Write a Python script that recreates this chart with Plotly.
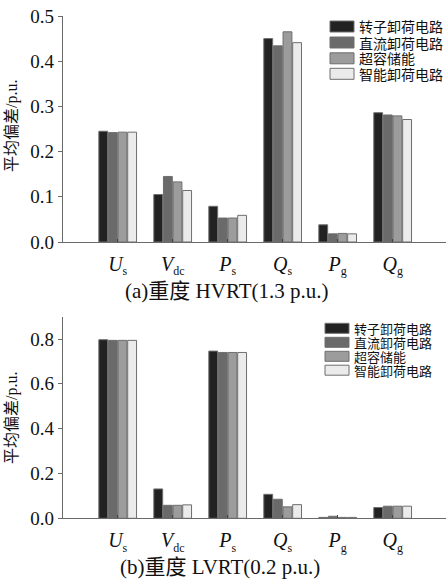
import plotly.graph_objects as go

W, H = 446, 580

categories = ["Us", "Vdc", "Ps", "Qs", "Pg", "Qg"]
tick_labels = ["<i>U</i><sub><span style='font-size:12px'>s</span></sub>",
               "<i>V</i><sub><span style='font-size:12px'>dc</span></sub>",
               "<i>P</i><sub><span style='font-size:12px'>s</span></sub>",
               "<i>Q</i><sub><span style='font-size:12px'>s</span></sub>",
               "<i>P</i><sub><span style='font-size:12px'>g</span></sub>",
               "<i>Q</i><sub><span style='font-size:12px'>g</span></sub>"]
series_names = ["转子卸荷电路", "直流卸荷电路", "超容储能", "智能卸荷电路"]
series_colors = ["#222222", "#6a6a6a", "#9c9c9c", "#ebebeb"]

# (a) HVRT 1.3 p.u.
hvrt_rotor = [0.245, 0.105, 0.079, 0.450, 0.038, 0.286]
hvrt_dc = [0.242, 0.145, 0.053, 0.434, 0.018, 0.281]
hvrt_sc = [0.243, 0.133, 0.053, 0.465, 0.019, 0.279]
hvrt_smart = [0.243, 0.114, 0.059, 0.441, 0.018, 0.271]

# (b) LVRT 0.2 p.u.
lvrt_rotor = [0.797, 0.131, 0.746, 0.107, 0.004, 0.048]
lvrt_dc = [0.794, 0.058, 0.740, 0.085, 0.009, 0.054]
lvrt_sc = [0.794, 0.058, 0.740, 0.051, 0.004, 0.054]
lvrt_smart = [0.794, 0.060, 0.740, 0.061, 0.004, 0.054]

caption_a = "(a)重度 HVRT(1.3 p.u.)"
caption_b = "(b)重度 LVRT(0.2 p.u.)"
y_title = "平均偏差/p.u."

SERIF = "Liberation Serif, Noto Sans CJK SC, serif"
CJK = "Noto Sans CJK SC, sans-serif"

def px(x):
    return x / W

def py(y):
    return 1 - y / H

fig = go.Figure()
top = [hvrt_rotor, hvrt_dc, hvrt_sc, hvrt_smart]
bot = [lvrt_rotor, lvrt_dc, lvrt_sc, lvrt_smart]
for name, col, vals in zip(series_names, series_colors, top):
    fig.add_trace(go.Bar(x=categories, y=vals, name=name, marker_color=col,
                         marker_line=dict(color="#6e6e6e", width=1),
                         xaxis="x", yaxis="y", showlegend=False))
for name, col, vals in zip(series_names, series_colors, bot):
    fig.add_trace(go.Bar(x=categories, y=vals, name=name, marker_color=col,
                         marker_line=dict(color="#6e6e6e", width=1),
                         xaxis="x2", yaxis="y2", showlegend=False))

xdom = [px(62.7), 1.0]
ydom_top = [py(242), py(16)]
ydom_bot = [py(518.3), py(316.6)]

xcommon = dict(type="category", categoryorder="array", categoryarray=categories,
               tickvals=categories, ticktext=tick_labels, range=[-1, 5.97],
               showline=True, linecolor="#6a6a6a", linewidth=1,
               ticks="inside", ticklen=3, tickcolor="#444", showgrid=False,
               zeroline=False, tickfont=dict(family=SERIF, size=20, color="#111"),
               domain=xdom, automargin=False, ticklabelstandoff=4, fixedrange=True)
ycommon = dict(showline=True, linecolor="#6a6a6a", linewidth=1, ticks="outside",
               ticklen=4, tickcolor="#6a6a6a", showgrid=False, zeroline=False,
               tickformat=".1f", tickfont=dict(family=SERIF, size=19, color="#111"),
               automargin=False, fixedrange=True)

fig.update_layout(
    width=W, height=H,
    margin=dict(l=0, r=0, t=0, b=0),
    paper_bgcolor="white", plot_bgcolor="white",
    barmode="group", bargap=0.30, bargroupgap=0.08,
    xaxis=dict(anchor="y", **xcommon),
    yaxis=dict(anchor="x", domain=ydom_top, range=[0, 0.5], dtick=0.1, **ycommon),
    xaxis2=dict(anchor="y2", **xcommon),
    yaxis2=dict(anchor="x2", domain=ydom_bot, range=[0, 0.9], dtick=0.2, **ycommon),
    showlegend=False,
)

shapes = []
annotations = []

def add_legend(x0, x1, ycenters, h, fs):
    for name, col, yc in zip(series_names, series_colors, ycenters):
        shapes.append(dict(type="rect", xref="paper", yref="paper",
                           x0=px(x0), x1=px(x1), y0=py(yc + h / 2), y1=py(yc - h / 2),
                           fillcolor=col, line=dict(color="#6e6e6e", width=1)))
        annotations.append(dict(xref="paper", yref="paper", x=px(x1 + 3), y=py(yc),
                                xanchor="left", yanchor="middle", showarrow=False,
                                text=name, font=dict(family=CJK, size=fs, color="#111")))

add_legend(330, 354, [26.5, 42.5, 58.3, 73.8], 11, 14)
add_legend(325, 349, [328.3, 342.3, 356.3, 370.2], 10, 13)

for yc in [126, 418]:
    annotations.append(dict(xref="paper", yref="paper", x=px(12), y=py(yc),
                            xanchor="center", yanchor="middle", showarrow=False,
                            textangle=-90, text=y_title,
                            font=dict(family=SERIF, size=16, color="#111")))

annotations.append(dict(xref="paper", yref="paper", x=px(226), y=py(291),
                        xanchor="center", yanchor="middle", showarrow=False,
                        text=caption_a, font=dict(family=SERIF, size=21, color="#111")))
annotations.append(dict(xref="paper", yref="paper", x=px(220), y=py(567),
                        xanchor="center", yanchor="middle", showarrow=False,
                        text=caption_b, font=dict(family=SERIF, size=21, color="#111")))

fig.update_layout(shapes=shapes, annotations=annotations)
fig.write_html("out.html")
